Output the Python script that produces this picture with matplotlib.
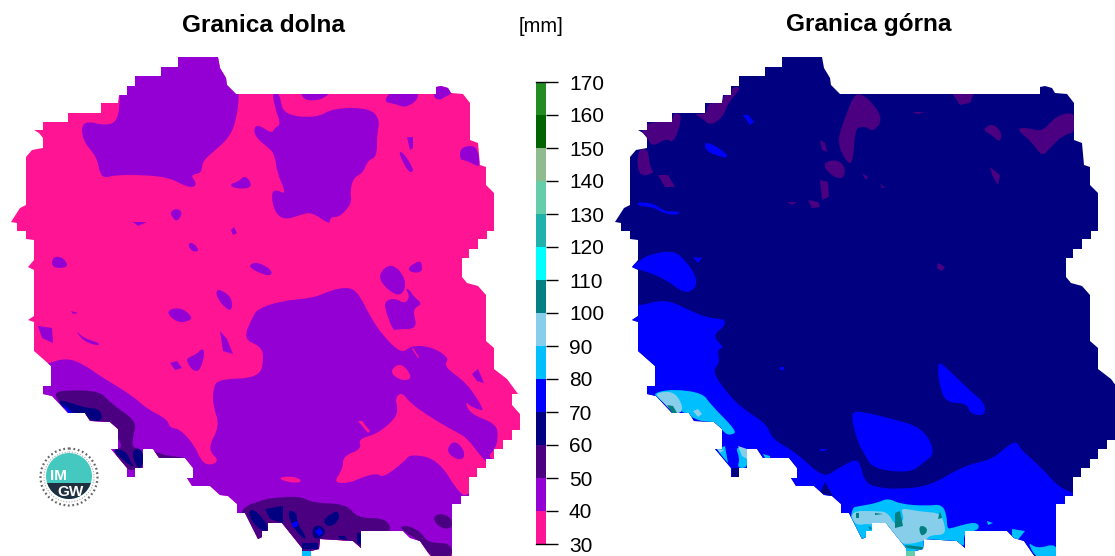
import matplotlib
matplotlib.use('Agg')
import matplotlib.pyplot as plt
from matplotlib.colors import ListedColormap, BoundaryNorm
from matplotlib.patches import Polygon, Circle, Rectangle, PathPatch
from matplotlib.path import Path
import numpy as np

plt.rcParams['font.family'] = ['Liberation Sans', 'DejaVu Sans']

# rainfall classes of the scale
levels = [30, 40, 50, 60, 70, 80, 90, 100, 110, 120, 130, 140, 150, 160, 170]
class_colors = ['deeppink', 'darkviolet', 'indigo', 'navy', 'blue', 'deepskyblue', 'skyblue', 'teal',
                'cyan', 'lightseagreen', 'mediumaquamarine', 'darkseagreen', 'darkgreen', 'forestgreen']
titles = ['Granica dolna', 'Granica górna']
unit = '[mm]'

# country outline in picture pixels
outline = [(178, 57), (218, 57), (220, 68), (226, 78), (227, 85), (236, 94), (436, 94), (436, 87), (441, 86),
           (448, 88), (451, 93), (463, 94), (470, 103), (470, 140), (478, 143), (480, 165), (486, 167), (486, 185),
           (494, 193), (494, 231), (487, 231), (487, 239), (478, 239), (478, 249), (469, 249), (469, 258),
           (462, 258), (462, 277), (467, 283), (478, 286), (486, 295), (486, 341), (494, 348), (494, 369),
           (507, 379), (518, 394), (512, 394), (512, 405), (520, 414), (520, 430), (512, 430), (512, 440),
           (503, 440), (503, 449), (494, 449), (494, 459), (486, 459), (486, 468), (477, 468), (477, 477),
           (469, 477), (469, 496), (461, 496), (461, 504), (452, 504), (452, 560), (433, 560), (420, 541),
           (410, 538), (403, 531), (361, 531), (361, 548), (353, 541), (320, 539), (319, 549), (311, 551),
           (311, 560), (302, 560), (302, 548), (290, 533), (282, 523), (268, 523), (268, 531), (262, 531),
           (262, 537), (258, 539), (253, 529), (245, 513), (237, 513), (237, 504), (228, 496), (220, 495),
           (210, 486), (192, 486), (187, 478), (193, 478), (193, 468), (185, 458), (159, 458), (153, 449),
           (143, 449), (143, 468), (135, 468), (135, 477), (127, 477), (127, 468), (111, 449), (118, 449),
           (118, 429), (110, 422), (90, 421), (85, 413), (68, 413), (52, 396), (43, 394), (43, 386), (51, 386),
           (51, 366), (34, 351), (34, 322), (28, 320), (34, 316), (34, 270), (28, 267), (34, 260), (34, 240),
           (26, 239), (26, 231), (17, 231), (17, 223), (11, 222), (20, 208), (26, 205), (26, 157), (32, 150),
           (43, 148), (43, 138), (39, 133), (34, 130), (43, 130), (43, 122), (68, 122), (68, 113), (101, 113),
           (101, 103), (118, 103), (119, 95), (127, 95), (127, 86), (135, 86), (135, 76), (161, 76), (161, 67),
           (178, 67)]
map_shift = 604

# left map, classes in drawing order
dolna_40_north = [
    [(239, 95), (237, 117), (230, 137), (213, 152), (202, 162), (202, 173), (190, 175), (197, 183), (193, 188),
     (183, 185), (170, 178), (147, 175), (113, 175), (107, 178), (100, 175), (97, 157), (82, 140), (82, 120),
     (107, 126), (118, 120), (120, 97), (120, 50), (240, 50)],
    [(272, 90), (280, 94), (283, 115), (317, 118), (333, 108), (370, 108), (380, 120), (377, 133), (377, 157),
     (368, 160), (363, 173), (353, 178), (350, 193), (352, 203), (340, 217), (330, 217), (330, 225), (312, 212),
     (300, 215), (285, 220), (275, 213), (271, 195), (275, 189), (287, 195), (277, 173), (275, 155), (268, 147),
     (258, 140), (253, 130), (258, 124), (272, 134), (275, 127), (281, 125), (275, 108)],
    [(230, 184), (238, 182), (245, 175), (252, 184), (248, 189), (233, 188)],
    [(170, 212), (177, 208), (183, 213), (177, 222), (172, 217)],
    [(133, 222), (147, 222), (138, 226)],
    [(231, 230), (234, 227), (237, 233), (233, 235)],
    [(188, 243), (194, 243), (199, 250), (196, 252), (190, 250)],
    [(52, 258), (60, 256), (67, 262), (67, 268), (52, 268)],
    [(250, 264), (258, 262), (272, 270), (271, 276), (262, 274), (250, 268)],
    [(216, 290), (222, 290), (232, 298), (232, 311), (225, 308), (217, 298)],
    [(300, 90), (332, 90), (325, 98), (313, 101), (303, 99)],
    [(383, 102), (392, 90), (418, 90), (418, 100), (405, 108), (396, 104)],
    [(433, 98), (436, 82), (458, 90), (443, 98), (440, 100)],
    [(407, 137), (413, 137), (413, 148), (410, 150)],
    [(398, 152), (403, 152), (413, 168), (413, 172), (408, 172)],
    [(460, 148), (472, 145), (478, 150), (480, 167), (475, 165), (465, 160), (460, 160)],
    [(377, 275), (392, 262), (407, 280), (402, 297), (387, 290)],
    [(407, 268), (420, 260), (422, 265), (422, 272), (412, 273)],
    [(405, 288), (410, 290), (413, 296), (423, 304), (412, 309), (418, 329), (398, 329), (393, 331), (385, 309),
     (385, 301), (395, 298), (405, 304), (410, 296)],
    [(165, 311), (180, 307), (192, 316), (190, 321), (177, 323)],
    [(220, 331), (227, 339), (233, 354), (223, 351)],
    [(187, 358), (197, 354), (202, 348), (205, 353), (200, 371), (193, 371), (187, 362)],
    [(170, 363), (177, 361), (182, 368), (175, 370)],
    [(38, 326), (52, 328), (53, 343), (42, 338)],
    [(71, 311), (78, 313), (73, 314)],
    [(75, 329), (83, 338), (100, 343), (98, 346), (83, 341)],
    [(472, 374), (478, 369), (484, 383), (477, 381)],
]
dolna_40_south = [
    [(48, 363), (67, 358), (83, 364), (100, 376), (133, 396), (147, 409), (167, 419), (170, 428), (180, 429),
     (195, 446), (200, 459), (208, 466), (220, 461), (207, 449), (220, 426), (213, 406), (213, 389), (218, 379),
     (260, 378), (264, 356), (260, 346), (243, 339), (253, 316), (258, 309), (280, 301), (313, 298), (327, 292),
     (340, 288), (352, 288), (360, 296), (370, 316), (383, 336), (402, 354), (410, 346), (430, 346), (450, 358),
     (443, 366), (467, 383), (483, 408), (482, 411), (470, 406), (465, 401), (470, 414), (497, 424), (498, 439),
     (495, 449), (486, 459), (530, 470), (530, 560), (0, 560), (0, 380)],
]
dolna_30_over = [
    [(402, 392), (410, 403), (433, 419), (458, 433), (467, 438), (483, 459), (490, 465), (478, 480), (469, 495),
     (460, 495), (438, 459), (410, 454), (405, 461), (383, 478), (377, 473), (360, 478), (350, 483), (333, 483),
     (343, 469), (343, 456), (362, 449), (358, 439), (377, 434), (395, 419), (398, 409), (395, 398)],
    [(392, 368), (402, 363), (413, 378), (403, 381), (392, 375)],
    [(278, 478), (290, 476), (301, 479), (300, 483), (287, 482)],
    [(412, 349), (413, 348), (419, 357), (418, 358)],
    [(358, 421), (362, 421), (370, 431), (368, 433)],
    [(342, 540), (348, 540), (347, 542), (342, 542)],
]
dolna_40_over = [
    [(447, 448), (455, 440), (465, 451), (463, 461), (450, 456)],
]
dolna_50 = [
    [(52, 393), (67, 390), (100, 391), (110, 403), (137, 421), (133, 436), (132, 448), (143, 449), (143, 468),
     (135, 468), (135, 470), (127, 470), (111, 449), (123, 448), (118, 439), (113, 423), (88, 421), (68, 413)],
    [(153, 451), (160, 458), (185, 458), (165, 455)],
    [(245, 506), (260, 501), (270, 498), (300, 496), (313, 503), (347, 504), (357, 518), (383, 518), (391, 526),
     (388, 535), (361, 535), (361, 560), (240, 560), (240, 515)],
    [(400, 526), (410, 526), (422, 533), (428, 543), (452, 543), (452, 560), (433, 560), (420, 541), (403, 531)],
    [(432, 518), (440, 513), (452, 518), (452, 529), (440, 528)],
]
dolna_60 = [
    [(55, 398), (80, 406), (88, 408), (100, 409), (103, 421), (90, 421), (85, 413), (68, 413)],
    [(111, 449), (125, 450), (131, 462), (135, 468), (125, 462)],
    [(133, 449), (143, 449), (143, 468), (137, 468), (133, 458)],
    [(248, 513), (253, 508), (267, 523), (268, 531), (262, 531), (253, 523)],
    [(265, 509), (283, 506), (283, 523), (270, 519)],
    [(288, 509), (297, 513), (297, 523), (307, 538), (303, 539), (290, 523)],
    [(312, 529), (318, 524), (327, 531), (320, 539), (313, 538)],
    [(322, 521), (332, 513), (338, 511), (340, 519), (330, 528)],
    [(302, 543), (318, 543), (318, 549), (302, 549)],
    [(338, 536), (345, 536), (347, 540), (340, 539)],
    [(357, 533), (361, 533), (361, 545), (357, 543)],
]
dolna_70 = [
    [(62, 403), (73, 413), (68, 413)],
    [(292, 523), (298, 521), (298, 526), (293, 528)],
    [(315, 531), (320, 528), (323, 533), (319, 536)],
]
dolna_80 = [
    [(302, 551), (311, 551), (311, 560), (302, 560)],
]
dolna_layers = [('darkviolet', dolna_40_north), ('darkviolet', dolna_40_south), ('deeppink', dolna_30_over),
                ('darkviolet', dolna_40_over), ('indigo', dolna_50), ('navy', dolna_60), ('blue', dolna_70),
                ('deepskyblue', dolna_80)]

# right map, classes in drawing order
gorna_50 = [
    [(640, 131), (648, 122), (673, 122), (673, 113), (682, 114), (678, 133), (672, 143), (667, 138), (652, 147),
     (648, 138)],
    [(693, 114), (707, 114), (707, 103), (723, 103), (723, 95), (732, 95), (732, 87), (742, 87), (728, 103),
     (723, 117), (710, 126), (702, 118)],
    [(637, 150), (648, 148), (650, 168), (655, 173), (638, 177)],
    [(658, 175), (668, 175), (675, 187), (665, 187)],
    [(853, 97), (860, 93), (873, 103), (883, 120), (873, 132), (867, 127), (860, 127), (855, 130), (853, 163),
     (847, 163), (837, 143), (843, 123), (848, 110)],
    [(820, 140), (825, 143), (827, 152), (822, 150)],
    [(822, 163), (837, 159), (846, 168), (843, 180), (830, 175)],
    [(820, 180), (828, 182), (829, 197), (822, 200)],
    [(808, 200), (818, 202), (820, 207), (812, 208)],
    [(787, 202), (797, 202), (792, 205)],
    [(862, 173), (868, 177), (866, 180)],
    [(950, 90), (975, 90), (970, 103), (960, 105)],
    [(912, 112), (925, 112), (918, 114)],
    [(982, 130), (992, 123), (1002, 132), (1000, 143), (992, 135)],
    [(1015, 128), (1030, 128), (1042, 132), (1057, 115), (1076, 112), (1076, 132), (1063, 135), (1050, 148),
     (1042, 157), (1032, 142)],
    [(990, 167), (1000, 175), (998, 185), (992, 175)],
    [(880, 183), (885, 188), (882, 188)],
    [(938, 263), (945, 267), (942, 271), (937, 268)],
]
gorna_70 = [
    [(743, 115), (748, 115), (754, 122), (750, 125)],
    [(704, 143), (710, 143), (725, 152), (728, 158), (722, 157), (707, 152)],
    [(637, 202), (653, 203), (665, 212), (680, 211), (678, 215), (665, 214), (653, 207), (638, 206)],
    [(625, 267), (637, 263), (647, 255), (673, 250), (685, 260), (697, 277), (695, 290), (683, 293), (667, 280),
     (643, 270)],
    [(693, 257), (702, 258), (698, 263)],
    [(625, 306), (639, 306), (665, 299), (687, 309), (707, 318), (725, 319), (725, 326), (712, 336), (725, 348),
     (717, 349), (720, 363), (712, 371), (727, 393), (743, 409), (767, 424), (772, 439), (797, 453), (823, 478),
     (837, 469), (855, 459), (860, 463), (865, 483), (880, 488), (900, 489), (930, 486), (963, 466), (993, 459),
     (1007, 446), (1017, 441), (1020, 449), (1040, 466), (1065, 494), (1120, 500), (1120, 560), (625, 560)],
    [(850, 413), (860, 411), (893, 419), (923, 428), (936, 453), (923, 463), (910, 473), (873, 469), (865, 455),
     (858, 443)],
    [(937, 363), (943, 364), (970, 391), (985, 403), (985, 416), (970, 414), (967, 403), (947, 403), (940, 389)],
    [(780, 367), (784, 367), (784, 370), (780, 370)],
    [(820, 449), (827, 449), (825, 451), (820, 451)],
]
gorna_60 = [
    [(820, 493), (833, 496), (825, 482)],
    [(732, 468), (739, 468), (739, 480), (732, 480)],
    [(943, 541), (957, 541), (957, 543), (943, 543)],
]
gorna_80 = [
    [(653, 393), (673, 389), (703, 393), (710, 404), (737, 431), (732, 435), (725, 434), (717, 423), (698, 421),
     (682, 411), (665, 404), (658, 398)],
    [(735, 446), (748, 451), (748, 468), (737, 468), (740, 459)],
    [(717, 449), (725, 446), (728, 463), (722, 456)],
    [(763, 454), (770, 456), (770, 458), (765, 458)],
    [(850, 508), (860, 506), (877, 503), (888, 498), (900, 504), (927, 506), (942, 504), (947, 516), (947, 529),
     (952, 528), (977, 521), (980, 530), (963, 533), (965, 548), (957, 541), (923, 541), (923, 560), (850, 560)],
    [(1012, 529), (1025, 531), (1017, 541), (1012, 537)],
    [(987, 521), (993, 523), (988, 525)],
    [(1027, 541), (1037, 549), (1057, 543), (1057, 560), (1037, 560)],
]
gorna_90 = [
    [(655, 393), (673, 391), (682, 403), (682, 413), (673, 413), (660, 399)],
    [(693, 411), (698, 409), (702, 414), (698, 417)],
    [(738, 446), (747, 449), (747, 459), (742, 456)],
    [(717, 449), (724, 450), (720, 453)],
    [(850, 511), (875, 511), (888, 512), (895, 526), (905, 520), (900, 508), (912, 510), (925, 512), (940, 513),
     (945, 525), (945, 535), (930, 535), (925, 541), (905, 545), (895, 540), (885, 528), (870, 523), (855, 526)],
]
gorna_100 = [
    [(667, 405), (673, 406), (677, 413), (672, 413)],
    [(895, 513), (900, 511), (903, 526), (895, 528)],
    [(940, 511), (942, 518), (938, 519)],
    [(919, 526), (925, 526), (928, 531), (923, 536), (920, 534)],
    [(875, 513), (883, 514), (875, 515)],
    [(868, 526), (872, 528), (870, 530)],
    [(856, 513), (859, 513), (859, 518), (856, 518)],
    [(905, 545), (923, 547), (922, 550), (907, 548)],
]
gorna_130 = [
    [(905, 551), (915, 551), (915, 560), (907, 560)],
]
gorna_layers = [('indigo', gorna_50), ('blue', gorna_70), ('navy', gorna_60), ('deepskyblue', gorna_80),
                ('skyblue', gorna_90), ('teal', gorna_100), ('mediumaquamarine', gorna_130)]


def rounded_path(shape):
    # corners become control points, so the contour edges look soft like the original
    pts = np.array(shape, dtype=float)
    mids = (pts + np.roll(pts, -1, axis=0)) / 2
    verts = [mids[-1]]
    codes = [Path.MOVETO]
    for p, m in zip(pts, mids):
        verts += [p, m]
        codes += [Path.CURVE3, Path.CURVE3]
    return Path(verts, codes)


def draw_map(ax, base, layers, shift):
    border = np.array(outline) + [shift, 0]
    ax.add_patch(Polygon(border, fc=base, ec='none'))
    clip = Polygon(border, transform=ax.transData)
    for color, shapes in layers:
        for shape in shapes:
            if len(shape) >= 5:
                p = PathPatch(rounded_path(shape), fc=color, ec='none')
            else:
                p = Polygon(shape, fc=color, ec='none')
            ax.add_patch(p)
            p.set_clip_path(clip)


def draw_logo(ax, x, y):
    ax.add_patch(Circle((x, y), 28.5, fc='white', ec='#666666', lw=1.6, ls=(0, (0.8, 1.2))))
    ax.add_patch(Circle((x, y), 25, fc='white', ec='#aaaaaa', lw=0.8, ls=(0, (1, 1.5))))
    ax.add_patch(Circle((x, y - 1), 23, fc='#45c8c0', ec='none'))
    clip = Circle((x, y - 1), 23, transform=ax.transData)
    band = Rectangle((x - 24, y + 6), 48, 18, fc='#1f2f3f', ec='none')
    ax.add_patch(band)
    band.set_clip_path(clip)
    ax.text(x - 11, y - 1, 'IM', color='white', fontsize=11, fontweight='bold', ha='center', va='center')
    ax.text(x + 2, y + 15, 'GW', color='white', fontsize=11, fontweight='bold', ha='center', va='center')


fig = plt.figure(figsize=(11.15, 5.56), dpi=100)
ax = fig.add_axes([0, 0, 1, 1])
ax.set_xlim(0, 1115)
ax.set_ylim(556, 0)
ax.axis('off')

draw_map(ax, 'deeppink', dolna_layers, 0)
draw_map(ax, 'navy', gorna_layers, map_shift)
draw_logo(ax, 69, 477)

ax.text(263.5, 25, titles[0], fontsize=17.6, fontweight='bold', ha='center', va='center')
ax.text(869, 25, titles[1], fontsize=17.6, fontweight='bold', ha='center', va='center')
ax.text(540.5, 27, unit, fontsize=14.5, ha='center', va='center')

# scale bar
cax = fig.add_axes([535.7 / 1115, 12 / 556, 10.3 / 1115, 462 / 556])
cmap = ListedColormap(class_colors)
norm = BoundaryNorm(levels, cmap.N)
cax.pcolormesh([0, 1], levels, np.array(levels[:-1]).reshape(-1, 1) + 5, cmap=cmap, norm=norm)
cax.set_xticks([])
cax.set_yticks(levels)
cax.yaxis.tick_right()
cax.tick_params(axis='y', length=8.5, width=1, labelsize=15, pad=8)
for side in ['left', 'right']:
    cax.spines[side].set_visible(False)
cax.spines['top'].set_linewidth(1)
cax.spines['bottom'].set_linewidth(1)

fig.savefig('out.png', dpi=100)
